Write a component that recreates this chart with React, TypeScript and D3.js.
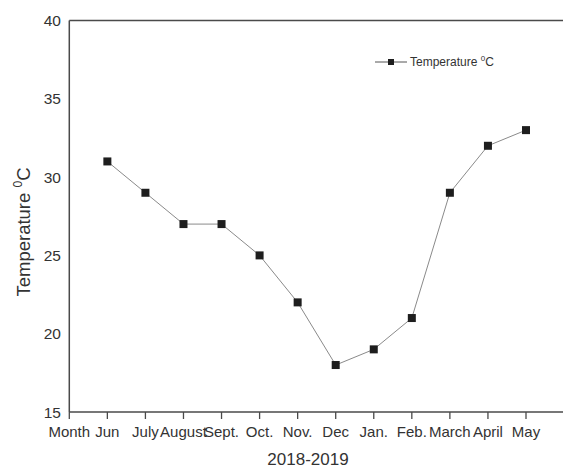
import React from "react";
import * as d3 from "d3";

const categories = ["Month", "Jun", "July", "August", "Sept.", "Oct.", "Nov.", "Dec", "Jan.", "Feb.", "March", "April", "May"];
const months = ["Jun", "July", "August", "Sept.", "Oct.", "Nov.", "Dec", "Jan.", "Feb.", "March", "April", "May"];
const temps = [31, 29, 27, 27, 25, 22, 18, 19, 21, 29, 32, 33];
const yTicks = [15, 20, 25, 30, 35, 40];

const W = 563, H = 469;
const FONT = "'Liberation Sans', Arial, sans-serif";

export default function App() {
  const x = d3.scalePoint<string>().domain(categories).range([69.3, 526]);
  const y = d3.scaleLinear().domain([15, 40]).range([412, 20.5]);
  const line = d3.line<number>().x((_, i) => x(months[i])!).y(d => y(d));
  const axisColor = "#4a4a4a";
  const textColor = "#333";
  return (
    <svg width={W} height={H} style={{ position: "absolute", left: 0, top: 0, fontFamily: FONT }}>
      <rect width={W} height={H} fill="#fff" />
      {/* axes */}
      <line x1={69.3} x2={W} y1={y(40)} y2={y(40)} stroke={axisColor} strokeWidth={1.5} />
      <line x1={69.3} x2={W} y1={y(15)} y2={y(15)} stroke={axisColor} strokeWidth={1.5} />
      <line x1={69.3} x2={69.3} y1={y(40)} y2={y(15)} stroke={axisColor} strokeWidth={1.5} />
      {categories.map(c => (
        <g key={c}>
          <line x1={x(c)} x2={x(c)} y1={y(15)} y2={y(15) + 7} stroke={axisColor} strokeWidth={1.3} />
          <text x={x(c)} y={437} textAnchor="middle" fontSize={15} fill={textColor}>{c}</text>
        </g>
      ))}
      {yTicks.map(t => (
        <text key={t} x={61} y={y(t) + 5.5} textAnchor="end" fontSize={15.5} fill={textColor}>{t}</text>
      ))}
      {/* titles */}
      <text x={308} y={465} textAnchor="middle" fontSize={17} fill={textColor}>2018-2019</text>
      <text transform={`translate(30,232) rotate(-90)`} textAnchor="middle" fontSize={18.5} fill={textColor}>
        Temperature <tspan dy={-8} fontSize={12}>0</tspan><tspan dy={8}>C</tspan>
      </text>
      {/* series */}
      <path d={line(temps) || ""} fill="none" stroke="#8a8a8a" strokeWidth={1} />
      {temps.map((t, i) => (
        <rect key={i} x={x(months[i])! - 4} y={y(t) - 4} width={8} height={8} fill="#1e1e1e" />
      ))}
      {/* legend */}
      <line x1={375} x2={407} y1={62} y2={62} stroke="#555" strokeWidth={1} />
      <rect x={388} y={59} width={6} height={6} fill="#1e1e1e" />
      <text x={410} y={66} fontSize={12} fill={textColor}>
        Temperature <tspan dy={-5} fontSize={8}>0</tspan><tspan dy={5}>C</tspan>
      </text>
    </svg>
  );
}
